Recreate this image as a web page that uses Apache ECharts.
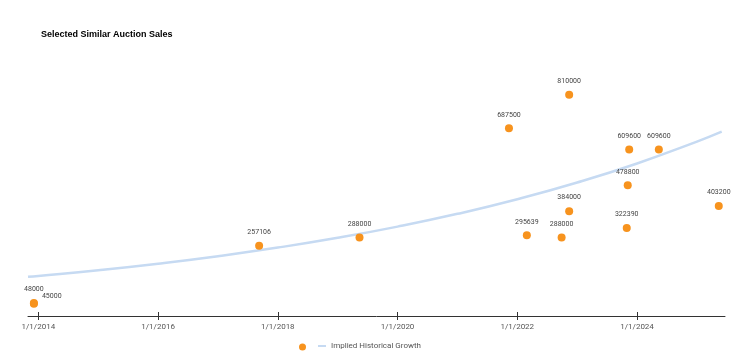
<!DOCTYPE html>
<html>
<head>
<meta charset="utf-8">
<script src="https://cdn.jsdelivr.net/npm/echarts@6/dist/echarts.min.js"></script>
<style>
  html, body { margin: 0; padding: 0; background: #ffffff; }
  #chart { width: 741px; height: 357px; }
</style>
</head>
<body>
<div id="chart"></div>
<script>
// ---- Data ----
const chartTitle = 'Selected Similar Auction Sales';
const saleDates = ['2013-12-05', '2013-12-05', '2017-09-09', '2019-05-14', '2021-11-11', '2022-02-28',
                   '2022-09-28', '2022-11-13', '2022-11-13', '2023-10-30', '2023-11-05', '2023-11-14',
                   '2024-05-13', '2025-05-14'];
const saleValues = [48000, 45000, 257106, 288000, 687500, 295639,
                    288000, 810000, 384000, 322390, 478800, 609600,
                    609600, 403200];
const trendName = 'Implied Historical Growth';
const trendDates = ['2013-10-30', '2014-01-01', '2015-01-01', '2016-01-01', '2017-01-01', '2018-01-01',
                    '2019-01-01', '2020-01-01', '2021-01-01', '2022-01-01', '2023-01-01', '2024-01-01',
                    '2025-01-01', '2025-06-01'];
const trendValues = [143600, 146800, 167800, 191800, 219200, 250600,
                     286400, 327400, 374200, 427700, 488900, 558800,
                     638700, 675100];
const tickLabels = ['1/1/2014', '1/1/2016', '1/1/2018', '1/1/2020', '1/1/2022', '1/1/2024'];
const axisStart = '2013-10-30';
const axisEnd = '2025-06-21';

// ---- Helpers: date string -> fractional year (linear time scale) ----
function toYear(s) {
  const [y, m, d] = s.split(/[\/-]/).map(Number);
  const t0 = Date.UTC(y, 0, 1), t1 = Date.UTC(y + 1, 0, 1);
  return y + (Date.UTC(y, m - 1, d) - t0) / (t1 - t0);
}
function labelToDate(lbl) { // 'M/D/YYYY' -> 'YYYY-MM-DD'
  const [m, d, y] = lbl.split('/').map(Number);
  return y + '-' + m + '-' + d;
}
const tickValues = tickLabels.map(l => toYear(labelToDate(l)));
const fmt = v => {
  const i = tickValues.findIndex(t => Math.abs(t - v) < 1e-6);
  return i >= 0 ? tickLabels[i] : '';
};

const scatterData = saleDates.map((d, i) => {
  const item = { value: [toYear(d), saleValues[i]] };
  if (i === 1) {
    item.label = { position: 'right', distance: 4, offset: [0, -7] };
  }
  return item;
});
const trendData = trendDates.map((d, i) => [toYear(d), trendValues[i]]);

const chart = echarts.init(document.getElementById('chart'), null, { renderer: 'canvas' });
chart.setOption({
  backgroundColor: '#ffffff',
  animation: false,
  title: {
    text: chartTitle,
    left: 41, top: 30,
    padding: 0,
    textStyle: { fontFamily: 'Liberation Sans, Arial, sans-serif', fontSize: 9, fontWeight: 'bold', color: '#000000' }
  },
  legend: [
    {
      data: [{ name: ' ', icon: 'circle' }],
      left: 299, top: 343, padding: 0,
      itemWidth: 7, itemHeight: 7,
      selectedMode: false,
      textStyle: { fontSize: 8 }
    },
    {
      data: [{ name: trendName, icon: 'rect' }],
      left: 318, top: 342, padding: 0,
      itemWidth: 8, itemHeight: 2,
      selectedMode: false,
      textStyle: { fontFamily: 'Roboto, sans-serif', fontSize: 8, color: '#555555' }
    }
  ],
  grid: { left: 28, right: 16, top: 43, bottom: 41, containLabel: false, outerBoundsMode: 'none' },
  xAxis: [
    {
      type: 'value',
      min: toYear(axisStart), max: toYear(axisEnd),
      axisLine: { show: true, lineStyle: { color: '#333333', width: 1 } },
      axisTick: { show: true, length: 4, customValues: tickValues, lineStyle: { color: '#333333' } },
      axisLabel: {
        customValues: tickValues,
        formatter: v => fmt(v),
        margin: 7,
        fontFamily: 'Roboto, sans-serif', fontSize: 8, color: '#555555'
      },
      splitLine: { show: false }
    },
    {
      type: 'value',
      min: toYear(axisStart), max: toYear(axisEnd),
      position: 'bottom',
      axisLine: { show: false },
      axisTick: { show: true, inside: true, length: 4, customValues: tickValues, lineStyle: { color: '#333333' } },
      axisLabel: { show: false },
      splitLine: { show: false }
    }
  ],
  yAxis: {
    type: 'value', min: 0, max: 1000000, show: false,
    splitLine: { show: false }
  },
  series: [
    {
      name: trendName,
      type: 'line',
      data: trendData,
      smooth: true,
      symbol: 'none',
      lineStyle: { color: '#c6daf2', width: 2.5 },
      itemStyle: { color: '#c6daf2' },
      z: 1
    },
    {
      name: ' ',
      type: 'scatter',
      data: scatterData,
      symbolSize: 8,
      itemStyle: { color: '#f7931e', opacity: 1 },
      label: {
        show: true,
        position: 'top',
        distance: 6,
        formatter: p => String(p.value[1]),
        fontFamily: 'Roboto, sans-serif', fontSize: 7, color: '#444444'
      },
      z: 3
    }
  ]
});
</script>
</body>
</html>
